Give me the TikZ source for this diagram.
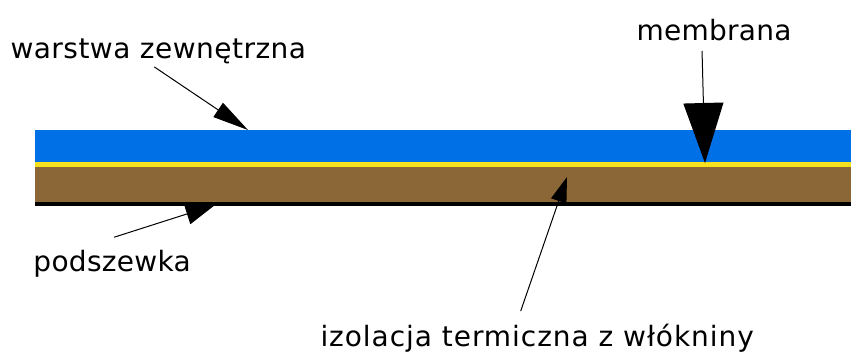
\documentclass[tikz,border=0pt]{standalone}
\usepackage{fontspec}
\setmainfont{DejaVu Sans}
\usetikzlibrary{arrows.meta}

\definecolor{outerblue}{RGB}{0,112,230}
\definecolor{membraneyellow}{RGB}{245,225,30}
\definecolor{fleecebrown}{RGB}{139,103,56}

\tikzset{every picture/.style={line width=0.75pt}}
\tikzset{
  tag/.style={anchor=base west, inner sep=0pt, font=\fontsize{21}{25}\selectfont\addfontfeature{LetterSpace=#1}},
  tag/.default=0,
  pointer/.style 2 args={draw=black, line width=0.75pt, -{Triangle[length=#1,width=#2]}}
}

\begin{document}
\begin{tikzpicture}[x=0.75pt,y=0.75pt,yscale=-1,xscale=1]
\useasboundingbox (0,0) rectangle (851,354);

%Layers
\fill[outerblue] (35,130) rectangle (851,162);
\fill[membraneyellow] (35,162) rectangle (851,166.5);
\fill[fleecebrown] (35,166.5) rectangle (851,201.5);
\fill[black] (35,201.5) rectangle (851,206);

%Points on the layers
\coordinate (outer) at (248,130);
\coordinate (membrane) at (705,163);
\coordinate (lining) at (215,205);
\coordinate (fleece) at (567,177);

% Text Node
\node[tag=1.7] (warstwa) at (10,58) {warstwa zewnętrzna};
% Text Node
\node[tag=1] (membrana) at (636,40) {membrana};
% Text Node
\node[tag=1] (podszewka) at (33,271) {podszewka};
% Text Node
\node[tag=3.4] (izolacja) at (320,346) {izolacja termiczna z włókniny};

%Pointers
\draw[pointer={27pt}{12.75pt}] ([xshift=-3pt,yshift=2.25pt]warstwa.south) -- (outer);
\draw[pointer={45pt}{30pt}] ([xshift=-9pt,yshift=7.5pt]membrana.south) -- (membrane);
\draw[pointer={22pt}{16pt}] ([xshift=1.5pt,yshift=-9pt]podszewka.north) -- (lining);
\draw[pointer={19pt}{12pt}] ([xshift=-12.4pt,yshift=-9pt]izolacja.north) -- (fleece);

\end{tikzpicture}
\end{document}
